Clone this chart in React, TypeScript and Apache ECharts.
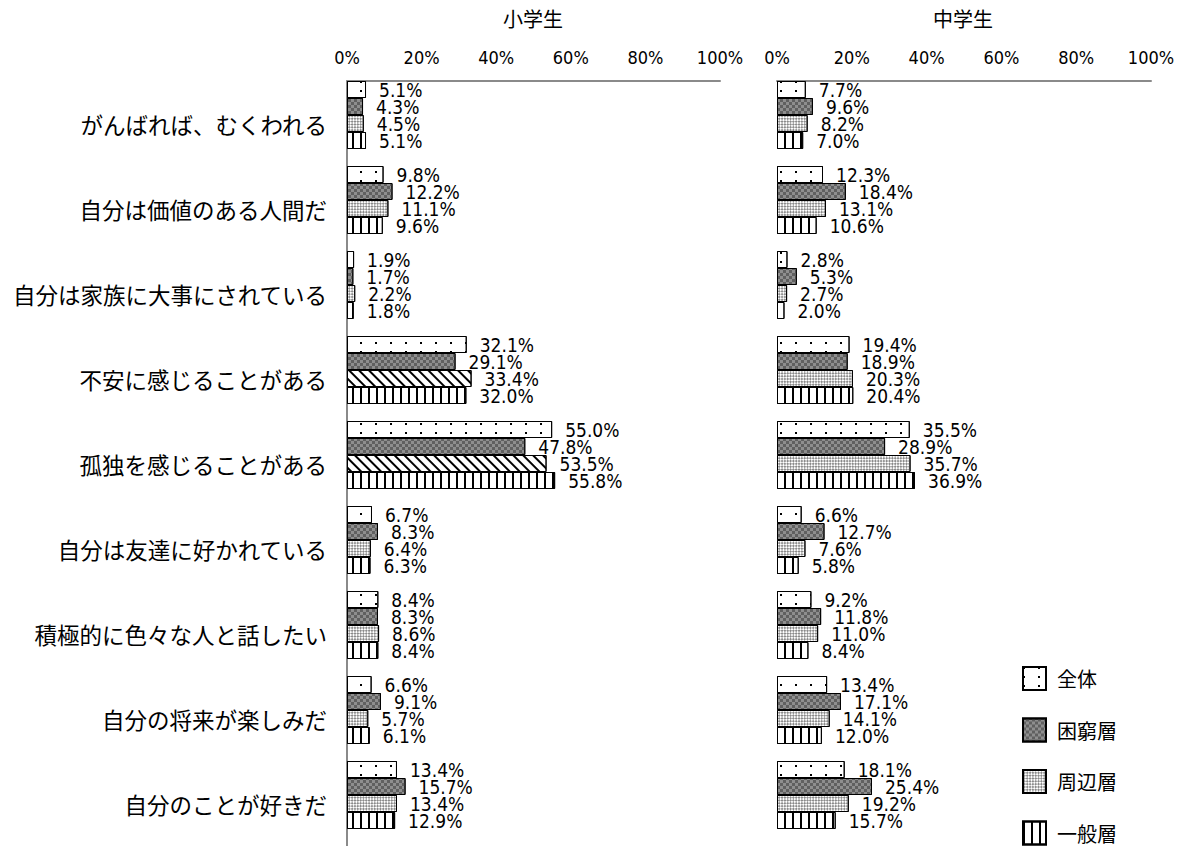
import React, { useEffect, useRef } from 'react';
import * as echarts from 'echarts';

const categories = [
  'がんばれば、むくわれる',
  '自分は価値のある人間だ',
  '自分は家族に大事にされている',
  '不安に感じることがある',
  '孤独を感じることがある',
  '自分は友達に好かれている',
  '積極的に色々な人と話したい',
  '自分の将来が楽しみだ',
  '自分のことが好きだ',
];

const seriesNames = ['全体', '困窮層', '周辺層', '一般層'];
const xTicks = [0, 20, 40, 60, 80, 100];
const panelTitles = ['小学生', '中学生'];

// 小学生
const elemTotal = [5.1, 9.8, 1.9, 32.1, 55.0, 6.7, 8.4, 6.6, 13.4];
const elemPoor = [4.3, 12.2, 1.7, 29.1, 47.8, 8.3, 8.3, 9.1, 15.7];
const elemBorder = [4.5, 11.1, 2.2, 33.4, 53.5, 6.4, 8.6, 5.7, 13.4];
const elemGeneral = [5.1, 9.6, 1.8, 32.0, 55.8, 6.3, 8.4, 6.1, 12.9];

// 中学生
const juniorTotal = [7.7, 12.3, 2.8, 19.4, 35.5, 6.6, 9.2, 13.4, 18.1];
const juniorPoor = [9.6, 18.4, 5.3, 18.9, 28.9, 12.7, 11.8, 17.1, 25.4];
const juniorBorder = [8.2, 13.1, 2.7, 20.3, 35.7, 7.6, 11.0, 14.1, 19.2];
const juniorGeneral = [7.0, 10.6, 2.0, 20.4, 36.9, 5.8, 8.4, 12.0, 15.7];

// 小学生の周辺層で斜線表示になっている項目
const hatchedElemBorder = [3, 4];

const NUM_FONT = '"Liberation Sans Narrow", "Arial Narrow", "DejaVu Sans Condensed", "Liberation Sans", sans-serif';
const JP_FONT = '"Noto Sans CJK JP", "Noto Sans", sans-serif';

const styles = [
  {
    color: '#ffffff',
    decal: { symbol: 'rect', color: '#000000', dashArrayX: [2, 13], dashArrayY: [2, 7], symbolSize: 1, rotation: 0 },
  },
  {
    color: '#8e8e8e',
    decal: { symbol: 'rect', color: '#606060', dashArrayX: [[3, 3], [0, 3, 3, 0]], dashArrayY: [3, 0], symbolSize: 1, rotation: 0 },
  },
  {
    color: '#ffffff',
    decal: { symbol: 'rect', color: '#8a8a8a', dashArrayX: [[2, 2], [0, 2, 2, 0]], dashArrayY: [2, 0], symbolSize: 1, rotation: Math.PI / 4 },
  },
  {
    color: '#ffffff',
    decal: { symbol: 'rect', color: '#000000', dashArrayX: [2, 6], dashArrayY: [10, 0], symbolSize: 1, rotation: 0 },
  },
];

const hatchDecal = { symbol: 'rect', color: '#000000', dashArrayX: [10, 0], dashArrayY: [1.5, 4.5], symbolSize: 1, rotation: Math.PI / 4 };

const panels = [
  [elemTotal, elemPoor, elemBorder, elemGeneral],
  [juniorTotal, juniorPoor, juniorBorder, juniorGeneral],
];

export default function App() {
  const ref = useRef<HTMLDivElement>(null);

  useEffect(() => {
    if (!ref.current) return;
    const chart = echarts.init(ref.current, undefined, { renderer: 'svg' });

    const grids = [
      { left: 347, top: 81, width: 373, height: 773 },
      { left: 777, top: 81, width: 374, height: 773 },
    ];

    const xAxes = grids.map((_, gi) => ({
      type: 'value',
      gridIndex: gi,
      position: 'top',
      min: 0,
      max: 100,
      interval: 20,
      axisLine: { show: true, lineStyle: { color: '#8a8a8a', width: 2 } },
      axisTick: { show: false },
      splitLine: { show: false },
      axisLabel: {
        formatter: (v: number) => (xTicks.includes(v) ? `${v}%` : ''),
        fontSize: 18,
        color: '#000',
        fontFamily: NUM_FONT,
        margin: 15,
      },
    }));

    const yAxes = grids.map((_, gi) => ({
      type: 'category',
      gridIndex: gi,
      inverse: true,
      data: categories,
      axisLine: { show: gi === 0, lineStyle: { color: '#8a8a8a', width: 2 } },
      axisTick: { show: false },
      axisLabel: {
        show: gi === 0,
        fontSize: 22.5,
        color: '#000',
        fontFamily: JP_FONT,
        margin: 20,
      },
    }));

    const series: any[] = [];
    panels.forEach((panel, pi) => {
      panel.forEach((values, si) => {
        series.push({
          type: 'bar',
          name: seriesNames[si],
          xAxisIndex: pi,
          yAxisIndex: pi,
          barGap: '0%',
          barCategoryGap: '0%',
          data: values.map((v, idx) => {
            if (pi === 0 && si === 2 && hatchedElemBorder.includes(idx)) {
              return { value: v, itemStyle: { color: '#ffffff', decal: hatchDecal } };
            }
            return v;
          }),
          itemStyle: { ...styles[si], borderColor: '#000', borderWidth: 1 },
          label: {
            show: true,
            position: 'right',
            distance: 13,
            formatter: (p: any) => `${Number(p.value).toFixed(1)}%`,
            fontSize: 19,
            color: '#000',
            fontFamily: NUM_FONT,
          },
        });
      });
      // empty spacer slot (the chart reserves a fifth, unused bar position)
      series.push({
        type: 'bar',
        name: 'spacer',
        xAxisIndex: pi,
        yAxisIndex: pi,
        barGap: '0%',
        barCategoryGap: '0%',
        data: categories.map(() => null),
        silent: true,
      });
    });

    chart.setOption({
      animation: false,
      backgroundColor: '#ffffff',
      grid: grids,
      xAxis: xAxes,
      yAxis: yAxes,
      legend: {
        data: seriesNames,
        orient: 'vertical',
        left: 1022,
        top: 666,
        height: 180,
        padding: 0,
        icon: 'rect',
        itemWidth: 23,
        itemHeight: 23,
        itemGap: 26.5,
        textStyle: { fontSize: 20, color: '#000', fontFamily: JP_FONT, padding: [0, 0, 0, 6] },
        selectedMode: false,
      },
      graphic: panelTitles.map((t, i) => ({
        type: 'text',
        x: i === 0 ? 533 : 963,
        y: 18,
        style: { text: t, fontSize: 20, fill: '#000', textAlign: 'center', textVerticalAlign: 'middle', fontFamily: JP_FONT },
      })),
      series,
    });

    return () => chart.dispose();
  }, []);

  return <div ref={ref} style={{ position: 'fixed', left: 0, top: 0, width: 1181, height: 846 }} />;
}
